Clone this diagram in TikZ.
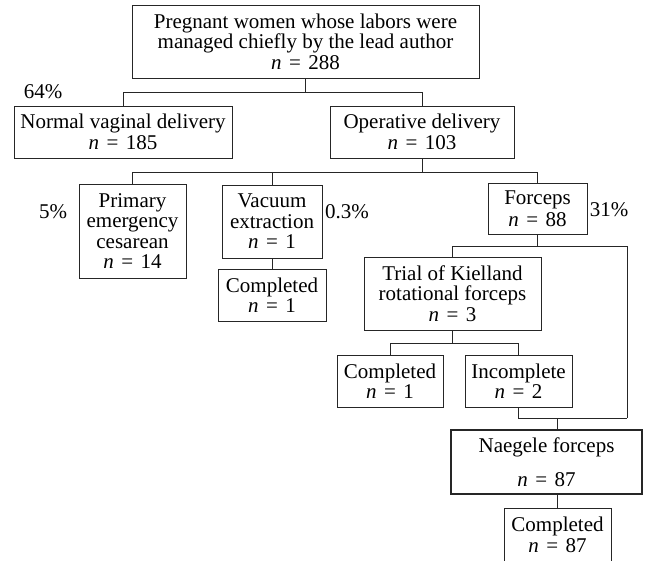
\documentclass[tikz,border=0pt]{standalone}
\usepackage{fontspec}
\setmainfont{Liberation Serif}
\newcommand{\nval}[1]{\textit{n}\hspace{0.35em}=\hspace{0.35em}#1}
\begin{document}
\begin{tikzpicture}[x=1pt,y=-1pt,
  box/.style={draw=black!85,line width=0.8pt,rectangle,inner sep=0pt,align=center,
    font=\fontsize{21}{20.5}\selectfont},
  pct/.style={font=\fontsize{21}{20.5}\selectfont,inner sep=0pt},
  conn/.style={draw=black!85,line width=0.8pt}]
\useasboundingbox (0,0) rectangle (645,560);
\fill[white] (0,0) rectangle (645,560);

\node[box,minimum width=347pt,minimum height=73pt] (top) at (305.5,41.5)
  {Pregnant women whose labors were\\managed chiefly by the lead author\\\nval{288}};
\node[box,minimum width=218pt,minimum height=52pt] (normal) at (123,132)
  {Normal vaginal delivery\\\nval{185}};
\node[box,minimum width=184pt,minimum height=52pt] (oper) at (422,132)
  {Operative delivery\\\nval{103}};
\node[box,minimum width=107pt,minimum height=94pt] (primary) at (132.5,231)
  {Primary\\emergency\\cesarean\\\nval{14}};
\node[box,minimum width=100pt,minimum height=73pt] (vacuum) at (272,221.5)
  {Vacuum\\extraction\\\nval{1}};
\node[box,minimum width=108pt,minimum height=52pt] (vcomp) at (272,295)
  {Completed\\\nval{1}};
\node[box,minimum width=99pt,minimum height=51pt] (forceps) at (537.5,208.5)
  {Forceps\\[2pt]\nval{88}};
\node[box,minimum width=177pt,minimum height=73pt] (trial) at (452.5,293.5)
  {Trial of Kielland\\rotational forceps\\\nval{3}};
\node[box,minimum width=106pt,minimum height=52pt] (kcomp) at (390,381)
  {Completed\\\nval{1}};
\node[box,minimum width=107pt,minimum height=52pt] (incomp) at (518.5,381)
  {Incomplete\\\nval{2}};
\node[box,line width=1.6pt,minimum width=191pt,minimum height=64pt] (naeg) at (546.5,462)
  {Naegele forceps\\[14pt]\nval{87}};
\node[box,minimum width=107pt,minimum height=54pt] (fcomp) at (557.5,535)
  {Completed\\\nval{87}};

\node[pct] (p64) at (43,92) {64\%};
\node[pct] (p5) at (53,212) {5\%};
\node[pct] (p03) at (347,212) {0.3\%};
\node[pct] (p31) at (609,210) {31\%};

\draw[conn] (top.south) -- ++(0,14) coordinate (j1);
\draw[conn] (j1) -| (normal.north);
\draw[conn] (j1) -| (oper.north);
\draw[conn] (oper.south) -- ++(0,14) coordinate (j2);
\draw[conn] (j2) -| (primary.north);
\draw[conn] (j2) -| (vacuum.north);
\draw[conn] (j2) -| (forceps.north);
\draw[conn] (vacuum.south) -- (vcomp.north);
\draw[conn] (forceps.south) -- ++(0,12) coordinate (j3);
\draw[conn] (j3) -| (trial.north);
\coordinate (rt) at (627,418);
\draw[conn] (j3) -| (rt);
\draw[conn] (trial.south) -- ++(0,13) coordinate (j4);
\draw[conn] (j4) -| (kcomp.north);
\draw[conn] (j4) -| (incomp.north);
\draw[conn] (incomp.south) |- (rt);
\draw[conn] (fcomp.north |- rt) -- (fcomp.north |- naeg.north);
\draw[conn] (fcomp.north |- naeg.south) -- (fcomp.north);
\end{tikzpicture}
\end{document}
